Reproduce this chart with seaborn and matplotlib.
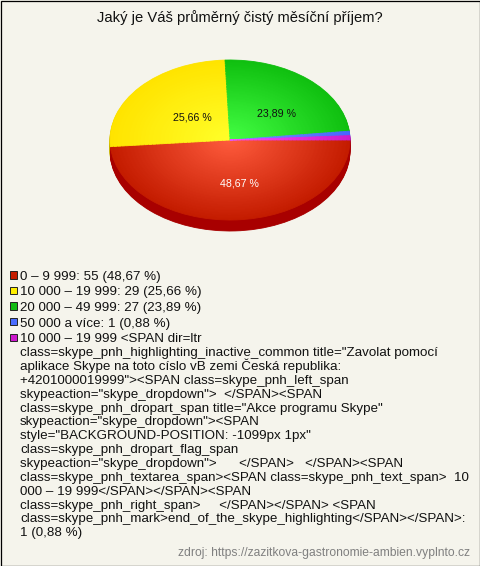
import numpy as np
import matplotlib
matplotlib.use("Agg")
import matplotlib.pyplot as plt
from matplotlib.colors import to_rgb
from matplotlib.patches import Rectangle
import seaborn as sns

# Survey data
title = "Jaký je Váš průměrný čistý měsíční příjem?"
source = "zdroj: https://zazitkova-gastronomie-ambien.vyplnto.cz"
categories = [
    "0 – 9 999",
    "10 000 – 19 999",
    "20 000 – 49 999",
    "50 000 a více",
    "10 000 – 19 999 <SPAN dir=ltr\n"
    "class=skype_pnh_highlighting_inactive_common title=\"Zavolat pomocí\n"
    "aplikace Skype na toto císlo vB zemi Česká republika:\n"
    "+4201000019999\"><SPAN class=skype_pnh_left_span\n"
    "skypeaction=\"skype_dropdown\">  </SPAN><SPAN\n"
    "class=skype_pnh_dropart_span title=\"Akce programu Skype\"\n"
    "skypeaction=\"skype_dropdown\"><SPAN\n"
    "style=\"BACKGROUND-POSITION: -1099px 1px\"\n"
    "class=skype_pnh_dropart_flag_span\n"
    "skypeaction=\"skype_dropdown\">      </SPAN>   </SPAN><SPAN\n"
    "class=skype_pnh_textarea_span><SPAN class=skype_pnh_text_span>  10\n"
    "000 – 19 999</SPAN></SPAN><SPAN\n"
    "class=skype_pnh_right_span>     </SPAN></SPAN> <SPAN\n"
    "class=skype_pnh_mark>end_of_the_skype_highlighting</SPAN></SPAN>",
]
counts = [55, 29, 27, 1, 1]

edge_colors = ["#c41c00", "#ffe400", "#10c010", "#4866ff", "#cc1ccc"]
center_colors = ["#ff5c3e", "#ffff2a", "#44ff44", "#7a94ff", "#ff48ff"]
side_colors = ["#a80000", "#c8b400", "#0a9a0a", "#3040c0", "#a000a0"]
legend_colors = ["#c41c00", "#ffee00", "#12bb12", "#4a6cff", "#cc18cc"]

bg = "#f5f4ec"

sns.set_style("white")
plt.rcParams["font.family"] = ["Liberation Sans", "DejaVu Sans"]

W, H = 480, 566
fig = plt.figure(figsize=(W / 100, H / 100), dpi=100, facecolor=bg)

# overlay in pixel coordinates for title, legend, source and border
ov = fig.add_axes([0, 0, 1, 1])
ov.set_xlim(0, W)
ov.set_ylim(H, 0)
ov.axis("off")
ov.set_facecolor("none")
ov.add_patch(Rectangle((0.5, 0.5), W - 1, H - 1, fill=False, edgecolor="black", lw=0.9))

ov.text(W / 2, 18, title, ha="center", va="center", fontsize=10.6, color="#111111")

total = sum(counts)


def fmt_pct(p):
    return f"{p:.2f}".replace(".", ",") + " %"


# legend, one text per line so the line pitch stays even
fs = 9.6
line_h = 13.86
y = 275
for cat, n, col in zip(categories, counts, legend_colors):
    pct = fmt_pct(100 * n / total)
    sep = "\n" if "\n" in cat else " "
    label = f"{cat}:{sep}{n} ({pct})"
    ov.add_patch(Rectangle((9.5, y - 4), 7.5, 7.5, facecolor=col, edgecolor="#222222", lw=0.7))
    for i, line in enumerate(label.split("\n")):
        ov.text(20, y + i * line_h + 4.6, line, ha="left", va="baseline",
                fontsize=fs, color="#111111")
    y += len(label.split("\n")) * line_h + 1.8

ov.text(470, 553, source, ha="right", va="center", fontsize=8.7, color="#808080")

# pie, drawn as a tilted disc with a shaded side
px_left, px_right, px_top, px_bottom = 105, 355, 55, 240
cx, cy = 230, 140
rx, ry = 120.0, 80.0
ax = fig.add_axes([px_left / W, 1 - px_bottom / H, (px_right - px_left) / W, (px_bottom - px_top) / H])
ax.set_facecolor("none")


def solid(wedges):
    for w in wedges:
        w.set_edgecolor(w.get_facecolor())
        w.set_linewidth(0.6)


depth = 11 / ry
for off in np.linspace(-depth, 0, 14)[:-1]:
    wedges, _ = ax.pie(counts, colors=side_colors, startangle=0, counterclock=False,
                       center=(0, off), wedgeprops=dict(linewidth=0))
    solid(wedges)

# top face with a radial shading
wedges, texts, autotexts = ax.pie(
    counts, colors=edge_colors, startangle=0, counterclock=False,
    autopct=lambda p: fmt_pct(p) if p > 5 else "", pctdistance=0.5,
    wedgeprops=dict(linewidth=0), textprops=dict(fontsize=7.7, color="#111111"),
)
solid(wedges)
for r in np.linspace(0.97, 0.03, 30):
    k = 1 - r
    cols = [tuple(np.array(to_rgb(e)) * (1 - k) + np.array(to_rgb(c)) * k)
            for e, c in zip(edge_colors, center_colors)]
    ws, _ = ax.pie(counts, colors=cols, radius=r, startangle=0, counterclock=False,
                   wedgeprops=dict(linewidth=0))
    solid(ws)

for t in autotexts:
    x0, y0 = t.get_position()
    t.set_position((x0 + 7 / rx, y0 - 4 / ry))
    t.set_zorder(10)
autotexts[0].set_color("white")

ax.set_aspect("auto")
ax.set_xlim(-(cx - px_left) / rx, (px_right - cx) / rx)
ax.set_ylim(-(px_bottom - cy) / ry, (cy - px_top) / ry)
ax.axis("off")

fig.savefig("out.png", dpi=100, facecolor=bg)
